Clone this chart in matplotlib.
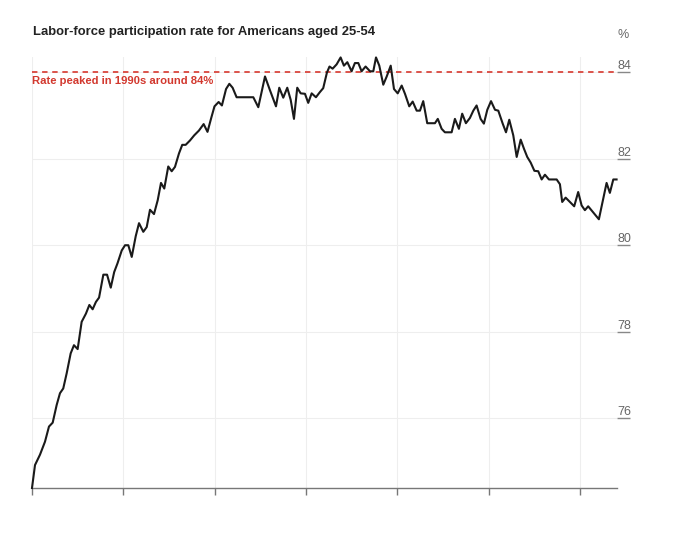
import numpy as np
import matplotlib
matplotlib.use("Agg")
import matplotlib.pyplot as plt

# prime-age labor-force participation
years = [1976.00, 1976.21, 1976.56, 1976.91, 1977.19, 1977.45, 1977.73, 1977.96,
         1978.19, 1978.43, 1978.71, 1978.94, 1979.20, 1979.48, 1979.78, 1980.02,
         1980.25, 1980.48, 1980.70, 1981.00, 1981.26, 1981.52, 1981.76, 1981.99,
         1982.29, 1982.52, 1982.75, 1982.99, 1983.27, 1983.50, 1983.80, 1984.04,
         1984.27, 1984.55, 1984.81, 1985.04, 1985.27, 1985.55, 1985.79, 1986.02,
         1986.30, 1986.53, 1986.77, 1987.07, 1987.37, 1987.70, 1988.03, 1988.30,
         1988.56, 1988.79, 1989.08, 1989.31, 1989.60, 1989.83, 1990.06, 1990.34,
         1991.51, 1991.86, 1992.33, 1992.68, 1993.10, 1993.33, 1993.61, 1993.89,
         1994.13, 1994.36, 1994.59, 1994.83, 1995.13, 1995.36, 1995.60, 1995.90,
         1996.18, 1996.41, 1996.67, 1996.85, 1997.07, 1997.35, 1997.63, 1997.86,
         1998.10, 1998.40, 1998.63, 1998.87, 1999.10, 1999.38, 1999.69, 1999.92,
         2000.11, 2000.34, 2000.62, 2000.86, 2001.14, 2001.37, 2001.63, 2001.91,
         2002.14, 2002.44, 2002.68, 2002.96, 2003.19, 2003.42, 2003.70, 2004.24,
         2004.44, 2004.71, 2004.94, 2005.41, 2005.64, 2005.92, 2006.15, 2006.41,
         2006.69, 2006.93, 2007.16, 2007.44, 2007.67, 2007.91, 2008.17, 2008.45,
         2008.68, 2008.99, 2009.22, 2009.45, 2009.73, 2009.97, 2010.25, 2010.48,
         2010.71, 2010.95, 2011.21, 2011.48, 2011.72, 2011.95, 2012.23, 2012.77,
         2013.00, 2013.16, 2013.40, 2013.70, 2014.00, 2014.28, 2014.52, 2014.75,
         2014.98, 2015.73, 2016.27, 2016.50, 2016.74, 2016.97]

rate = [74.39, 74.92, 75.16, 75.46, 75.81, 75.90, 76.31, 76.58,
        76.69, 77.04, 77.50, 77.69, 77.60, 78.23, 78.42, 78.62,
        78.52, 78.69, 78.79, 79.32, 79.32, 79.02, 79.38, 79.58,
        79.88, 80.00, 80.00, 79.73, 80.21, 80.51, 80.31, 80.42,
        80.82, 80.72, 81.04, 81.44, 81.31, 81.82, 81.71, 81.81,
        82.12, 82.32, 82.32, 82.42, 82.54, 82.65, 82.80, 82.62,
        82.94, 83.21, 83.31, 83.23, 83.61, 83.73, 83.64, 83.42,
        83.42, 83.19, 83.90, 83.58, 83.21, 83.64, 83.41, 83.64,
        83.36, 82.92, 83.64, 83.51, 83.50, 83.29, 83.51, 83.42,
        83.54, 83.63, 83.99, 84.13, 84.08, 84.18, 84.34, 84.15,
        84.23, 84.02, 84.21, 84.21, 84.02, 84.13, 84.02, 84.02,
        84.34, 84.15, 83.71, 83.90, 84.15, 83.61, 83.51, 83.69,
        83.50, 83.21, 83.32, 83.11, 83.11, 83.33, 82.82, 82.82,
        82.92, 82.69, 82.61, 82.61, 82.92, 82.69, 83.04, 82.82,
        82.94, 83.11, 83.23, 82.92, 82.81, 83.13, 83.33, 83.13,
        83.11, 82.81, 82.61, 82.90, 82.54, 82.04, 82.44, 82.23,
        82.04, 81.91, 81.72, 81.71, 81.52, 81.63, 81.52, 81.52,
        81.41, 81.00, 81.10, 81.00, 80.90, 81.23, 80.92, 80.81,
        80.90, 80.60, 81.44, 81.21, 81.52, 81.52]

y_ticks = [76, 78, 80, 82, 84]
x_ticks = [1976.0, 1982.4, 1988.8, 1995.2, 2001.6, 2008.0, 2014.4]
peak = 84

fig = plt.figure(figsize=(6.84, 5.36), dpi=100)
ax = fig.add_axes([32 / 684, 1 - 488 / 536, 585 / 684, 431 / 536])

ax.plot(years, rate, color="#1a1a1a", lw=1.5, clip_on=False, zorder=3)
ax.axhline(peak, color="#d9463d", lw=1.3, ls=(0, (3, 2.6)), zorder=2)
ax.annotate("Rate peaked in 1990s around 84%", xy=(0, peak),
            xycoords=("axes fraction", "data"), xytext=(0, -3),
            textcoords="offset points", ha="left", va="top",
            color="#d2382e", fontsize=8.1, fontweight="semibold",
            family="Liberation Sans")

ax.set_xlim(1976, 2017)
ax.set_ylim(74.39, 84.35)

ax.set_xticks(x_ticks)
ax.set_xticklabels([])
ax.set_yticks(y_ticks)
ax.set_yticklabels([str(v) for v in y_ticks])
ax.grid(True, color="#eeeeee", lw=0.8, zorder=0)

ax.tick_params(axis="x", direction="out", length=5, width=1, color="#777777")
ax.tick_params(axis="y", left=False, right=True, labelleft=False, labelright=True,
               direction="out", length=9, width=1, color="#888888", pad=-9,
               labelsize=9, labelcolor="#666666")
for lab in ax.get_yticklabels():
    lab.set_verticalalignment("bottom")
    lab.set_family("Liberation Sans")

for s in ["top", "left", "right"]:
    ax.spines[s].set_visible(False)
ax.spines["bottom"].set_color("#777777")
ax.spines["bottom"].set_linewidth(1)

fig.text(33 / 684, 1 - 32 / 536, "Labor-force participation rate for Americans aged 25-54",
         ha="left", va="center", fontsize=9.4, fontweight="bold", color="#222222",
         family="Liberation Sans")
fig.text(623 / 684, 1 - 35 / 536, "%", ha="center", va="center", fontsize=9,
         color="#666666", family="Liberation Sans")

fig.savefig("out.png", dpi=100)
